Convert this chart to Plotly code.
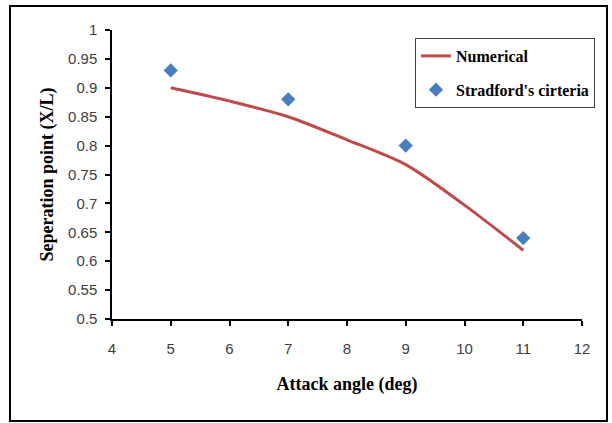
import plotly.graph_objects as go

num_x = [5, 6, 7, 8, 9, 10, 11]
num_y = [0.900, 0.877, 0.850, 0.810, 0.767, 0.697, 0.619]
exp_x = [5, 7, 9, 11]
exp_y = [0.930, 0.880, 0.800, 0.640]

L, R, T, B = 112, 30, 30, 104
W, H = 612, 423
pw, ph = W - L - R, H - T - B

def px(x):
    return (x - L) / pw

def py(y):
    return (H - B - y) / ph

fig = go.Figure()
fig.add_trace(go.Scatter(x=num_x, y=num_y, mode="lines", name="<b>Numerical</b>",
                         legendgroup="a",
                         line=dict(color="#BE4B48", width=3, shape="spline", smoothing=0.8)))
fig.add_trace(go.Scatter(x=exp_x, y=exp_y, mode="markers", name="<b>Stradford's cirteria</b>",
                         legendgroup="b",
                         marker=dict(symbol="diamond", size=11, color="#4A7EBB")))

tickfont = dict(family="Liberation Sans", size=15, color="#404040")
titlefont = dict(family="Liberation Serif", size=18, color="black")

fig.update_layout(
    width=W, height=H,
    margin=dict(l=L, r=R, t=T, b=B),
    paper_bgcolor="white", plot_bgcolor="white",
    showlegend=True,
    legend=dict(x=px(415), y=py(38), xanchor="left", yanchor="top",
                bordercolor="#404040", borderwidth=1, bgcolor="white",
                font=dict(family="Liberation Serif", size=16, color="black"),
                tracegroupgap=10, itemwidth=30),
    xaxis=dict(range=[4, 12], dtick=1, showgrid=False, zeroline=False,
               showline=True, linecolor="black", linewidth=1.5,
               ticks="outside", ticklen=5, tickcolor="black", tickwidth=1.5,
               tickfont=tickfont, ticklabelstandoff=10,
               title=dict(text="<b>Attack angle (deg)</b>", font=titlefont, standoff=22)),
    yaxis=dict(range=[0.5, 1.0], dtick=0.05, showgrid=False, zeroline=False,
               showline=True, linecolor="black", linewidth=1.5,
               ticks="outside", ticklen=5, tickcolor="black", tickwidth=1.5,
               tickfont=tickfont, tickformat="~g", ticklabelstandoff=5,
               title=dict(text="<b>Seperation point (X/L)</b>", font=titlefont, standoff=10)),
)

fig.add_shape(type="rect", xref="paper", yref="paper",
              x0=px(10), x1=px(607), y0=py(421), y1=py(6),
              line=dict(color="black", width=2), fillcolor="rgba(0,0,0,0)", layer="below")

fig.write_html("out.html")
